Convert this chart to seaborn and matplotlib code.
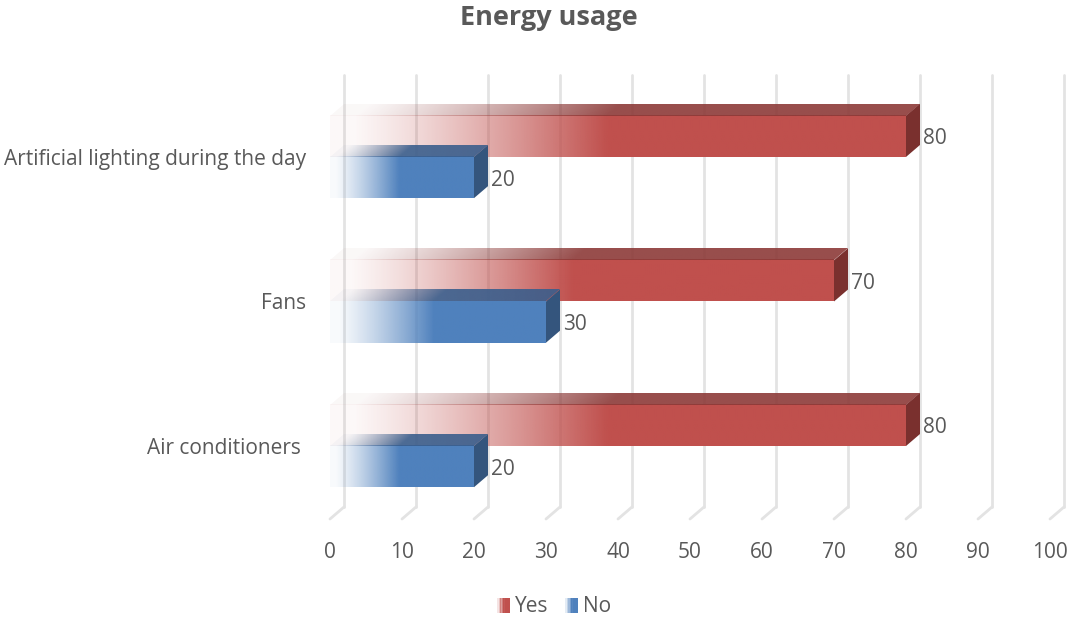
import numpy as np
import pandas as pd
import matplotlib
matplotlib.use("Agg")
import matplotlib.pyplot as plt
import seaborn as sns
from matplotlib.patches import Polygon, Rectangle, Patch
from matplotlib.lines import Line2D
from matplotlib.transforms import Affine2D, IdentityTransform
from matplotlib.legend_handler import HandlerBase

# data
categories = ["Artificial lighting during the day", "Fans", "Air conditioners "]
yes_values = [80, 70, 80]
no_values = [20, 30, 20]
series = ["Yes", "No"]
x_ticks = [0, 10, 20, 30, 40, 50, 60, 70, 80, 90, 100]

RED = "#C0504D"
BLUE = "#4F81BD"
TOP = {"Yes": "#8C3A38", "No": "#3A5E8C"}
SIDE = {"Yes": "#7A302E", "No": "#34557D"}
TEXT = "#595959"
GRID = "#E3E3E3"
DX, DY = 14, 12   # depth of the fake 3d, in pixels
FS = 15

df = pd.DataFrame({
    "Category": categories * 2,
    "Value": yes_values + no_values,
    "Response": ["Yes"] * len(categories) + ["No"] * len(categories),
})

sns.set_theme(style="white")
plt.rcParams["font.family"] = ["Open Sans", "DejaVu Sans"]

fig = plt.figure(figsize=(10.7, 6.21), dpi=100)
ax = fig.add_axes([330 / 1070, 102 / 621, 720 / 1070, 432 / 621])
sns.barplot(data=df, x="Value", y="Category", hue="Response", hue_order=series,
            palette=[RED, BLUE], orient="h", width=0.57, legend=False, ax=ax)
ax.set_xlim(0, 100)
ax.set_ylim(2.505, -0.484)
ax.set_autoscale_on(False)
ax.set_xticks(x_ticks)
ax.set_xlabel("")
ax.set_ylabel("")
for s in ax.spines.values():
    s.set_visible(False)
ax.tick_params(axis="both", length=0, colors=TEXT, labelsize=FS)
ax.tick_params(axis="x", pad=16.5)
ax.tick_params(axis="y", pad=17)
for lab in ax.get_yticklabels():
    lab.set_verticalalignment("center_baseline")

to_disp = ax.transData.transform
ident = IdentityTransform()

# back wall + floor gridlines
y_bot = ax.get_ylim()[0]
y_top = ax.get_ylim()[1]
for t in x_ticks:
    xf, yf = to_disp((t, y_bot))
    _, yt = to_disp((t, y_top))
    ax.add_line(Line2D([xf + DX, xf + DX], [yf + DY, yt + DY], color=GRID, lw=2.0,
                       transform=ident, clip_on=False, zorder=0))
    ax.add_line(Line2D([xf, xf + DX], [yf, yf + DY], color=GRID, lw=2.0,
                       transform=ident, clip_on=False, zorder=0))


def ramp(color, n=256, alpha_max=1.0):
    u = np.linspace(0, 1, n)
    a = np.clip((u / 0.48) ** 1.3, 0.04, 1.0) * alpha_max
    rgb = np.array(matplotlib.colors.to_rgb(color))
    img = np.zeros((1, n, 4))
    img[0, :, :3] = rgb
    img[0, :, 3] = a
    return img


for level, container, z in zip(series, ax.containers, [2, 3]):
    base = RED if level == "Yes" else BLUE
    for p in container:
        x0, y0, w, h = p.get_x(), p.get_y(), p.get_width(), p.get_height()
        X0, Ya = to_disp((x0, y0))
        X1, Yb = to_disp((x0 + w, y0 + h))
        Ylo, Yhi = min(Ya, Yb), max(Ya, Yb)
        # front face
        ax.imshow(ramp(base), extent=(0, 1, 0, 1), aspect="auto", interpolation="bilinear",
                  transform=Affine2D(np.array([[X1 - X0, 0, X0], [0, Yhi - Ylo, Ylo], [0, 0, 1]])),
                  clip_on=False, zorder=z)
        # top face
        ax.imshow(ramp(TOP[level], alpha_max=0.9), extent=(0, 1, 0, 1), aspect="auto",
                  interpolation="bilinear",
                  transform=Affine2D(np.array([[X1 - X0, DX, X0], [0, DY, Yhi], [0, 0, 1]])),
                  clip_on=False, zorder=z)
        # side face
        ax.add_patch(Polygon([(X1, Ylo), (X1, Yhi), (X1 + DX, Yhi + DY), (X1 + DX, Ylo + DY)],
                             closed=True, facecolor=SIDE[level], edgecolor="none",
                             transform=ident, clip_on=False, zorder=z))
    labels = ax.bar_label(container, padding=12, fontsize=FS, color=TEXT)
    for t in labels:
        t.set_verticalalignment("center_baseline")
    for p in container:
        p.set_facecolor("none")
        p.set_edgecolor("none")

fig.text(549 / 1070, 1 - 18 / 621, "Energy usage", ha="center", va="center",
         fontsize=19.5, fontweight="bold", color=TEXT)


class GradHandler(HandlerBase):
    def create_artists(self, legend, orig_handle, xdescent, ydescent, width, height, fontsize, trans):
        n = 8
        arts = []
        for i in range(n):
            a = min(1.0, 0.15 + 1.4 * i / (n - 1))
            arts.append(Rectangle((-xdescent + i * width / n, -ydescent), width / n + 0.2, height,
                                  facecolor=orig_handle.get_facecolor(), alpha=a, lw=0,
                                  transform=trans))
        return arts


handles = [Patch(facecolor=RED, label="Yes"), Patch(facecolor=BLUE, label="No")]
fig.legend(handles=handles, labels=series, loc="center", bbox_to_anchor=(554 / 1070, 1 - 607 / 621),
           ncol=2, frameon=False, handlelength=0.6, handleheight=0.7, handletextpad=0.25,
           columnspacing=0.8, fontsize=FS, labelcolor=TEXT, handler_map={Patch: GradHandler()})

fig.savefig("out.png", dpi=100)
